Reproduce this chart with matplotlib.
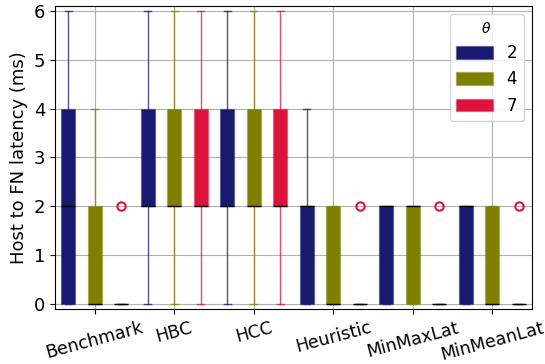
import matplotlib
matplotlib.use("Agg")
import matplotlib.pyplot as plt
from matplotlib.patches import Patch
from matplotlib.colors import to_rgba

categories = ["Benchmark", "HBC", "HCC", "Heuristic", "MinMaxLat", "MinMeanLat"]
thetas = ["2", "4", "7"]
colors = ["#191970", "#808000", "#DC143C"]

# per theta: lists over categories
q1 = {
    "2": [0, 2, 2, 0, 0, 0],
    "4": [0, 2, 2, 0, 0, 0],
    "7": [0, 2, 2, 0, 0, 0],
}
med = {
    "2": [2, 2, 2, 2, 2, 2],
    "4": [0, 2, 2, 0, 2, 0],
    "7": [0, 2, 2, 0, 0, 0],
}
q3 = {
    "2": [4, 4, 4, 2, 2, 2],
    "4": [2, 4, 4, 2, 2, 2],
    "7": [0, 4, 4, 0, 0, 0],
}
whislo = {
    "2": [0, 0, 0, 0, 0, 0],
    "4": [0, 0, 0, 0, 0, 0],
    "7": [0, 0, 0, 0, 0, 0],
}
whishi = {
    "2": [6, 6, 6, 4, 2, 2],
    "4": [4, 6, 6, 2, 2, 2],
    "7": [0, 6, 6, 0, 0, 0],
}
fliers = {
    "2": [[], [], [], [], [], []],
    "4": [[], [], [], [], [], []],
    "7": [[2], [], [], [2], [2], [2]],
}

fig = plt.figure(figsize=(5.45, 3.64), dpi=100)
ax = fig.add_axes([0.101, 0.151, 0.875, 0.833])
ax.set_axisbelow(True)
ax.grid(True, color="#b0b0b0", linewidth=0.8)

offsets = [-1/3, 0, 1/3]
bw = 0.18
for j, t in enumerate(thetas):
    c = colors[j]
    stats = []
    for i in range(len(categories)):
        stats.append(dict(q1=q1[t][i], med=med[t][i], q3=q3[t][i],
                          whislo=whislo[t][i], whishi=whishi[t][i],
                          fliers=fliers[t][i]))
    pos = [i + offsets[j] for i in range(len(categories))]
    light = to_rgba(c, 0.75)
    ax.bxp(stats, positions=pos, widths=bw, patch_artist=True, showfliers=True,
           boxprops=dict(facecolor=c, edgecolor=to_rgba(c, 0.35), linewidth=1),
           whiskerprops=dict(color=light, linewidth=1),
           capprops=dict(color=light, linewidth=1),
           medianprops=dict(color="black", linewidth=1),
           flierprops=dict(marker="o", markerfacecolor="none",
                           markeredgecolor=c, markersize=6, markeredgewidth=1.5),
           capwidths=bw / 2, manage_ticks=False)

ax.set_xticks(range(len(categories)))
ax.set_xticklabels(categories, rotation=15, fontsize=12.6)
ax.set_xlim(-0.5, len(categories) - 0.5)
ax.set_ylim(-0.1, 6.1)
ax.set_yticks([0, 1, 2, 3, 4, 5, 6])
ax.tick_params(axis="y", labelsize=13)
ax.set_ylabel("Host to FN latency (ms)", fontsize=13)

handles = [Patch(facecolor=colors[k], edgecolor=to_rgba(colors[k], 0.35), label=thetas[k])
           for k in range(3)]
leg = ax.legend(handles=handles, title=r"$\theta$", loc="upper right",
                fontsize=12, title_fontsize=10, handlelength=2.2, handleheight=0.8,
                borderaxespad=0.5)

fig.savefig("out.png", dpi=100)
